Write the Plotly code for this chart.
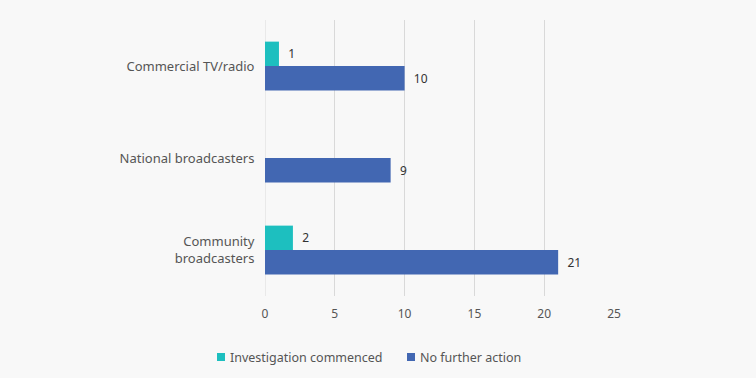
import plotly.graph_objects as go

categories = ["Commercial TV/radio", "National broadcasters", "Community<br>broadcasters"]
investigation = [1, None, 2]
no_further = [10, 9, 21]
x_ticks = [0, 5, 10, 15, 20, 25]
series_names = ["Investigation commenced", "No further action"]
series_colors = ["#1dbfbf", "#4267b2"]

W, H = 756, 378
ML, MR, MT, MB = 265, 142, 20, 82
PW, PH = W - ML - MR, H - MT - MB


def px_x(p):
    return (p - ML) / PW


def px_y(p):
    return (H - MB - p) / PH


fig = go.Figure()
for vals, name, color in zip([investigation, no_further], series_names, series_colors):
    fig.add_trace(go.Bar(
        y=categories, x=vals, orientation="h", name=name,
        marker=dict(color=color, line=dict(width=0)),
        text=vals, texttemplate="  %{x}", textposition="outside",
        textfont=dict(color="#333333", size=12), cliponaxis=False,
        showlegend=False,
    ))

fig.update_layout(
    width=W, height=H,
    paper_bgcolor="#f8f8f8", plot_bgcolor="#f8f8f8",
    font=dict(family="Noto Sans", size=12, color="#555555"),
    margin=dict(l=ML, r=MR, t=MT, b=MB),
    barmode="group", bargap=0.47, bargroupgap=0,
    xaxis=dict(range=[0, 25], tickvals=x_ticks, showgrid=True, gridcolor="#d9d9d9",
               gridwidth=1, zeroline=False, showline=False, fixedrange=True,
               ticks="outside", ticklen=7, tickcolor="rgba(0,0,0,0)",
               tickfont=dict(size=12, color="#555555")),
    yaxis=dict(autorange="reversed", showgrid=False, zeroline=False, showline=False,
               fixedrange=True,
               ticks="outside", ticklen=7, tickcolor="rgba(0,0,0,0)",
               tickfont=dict(size=13, color="#555555")),
)
fig.add_shape(type="line", xref="x", yref="paper", x0=0, x1=0, y0=0, y1=1,
              line=dict(color="#d9d9d9", width=1), layer="below")

# custom legend (small squares, text right next to them)
legend_starts = [217, 407]
for start, name, color in zip(legend_starts, series_names, series_colors):
    fig.add_shape(type="rect", xref="paper", yref="paper",
                  x0=px_x(start), x1=px_x(start + 8), y0=px_y(361), y1=px_y(353),
                  fillcolor=color, line=dict(width=0))
    fig.add_annotation(xref="paper", yref="paper", x=px_x(start + 11), y=px_y(357),
                       xanchor="left", yanchor="middle", showarrow=False,
                       text=name, font=dict(size=12.5, color="#555555"))

fig.write_html("out.html", config={"displayModeBar": False})

with open("out.html", "r", encoding="utf-8") as f:
    html = f.read()
html = html.replace("<head>", "<head><style>html,body{margin:0;padding:0;background:#f8f8f8;}</style>", 1)
with open("out.html", "w", encoding="utf-8") as f:
    f.write(html)
